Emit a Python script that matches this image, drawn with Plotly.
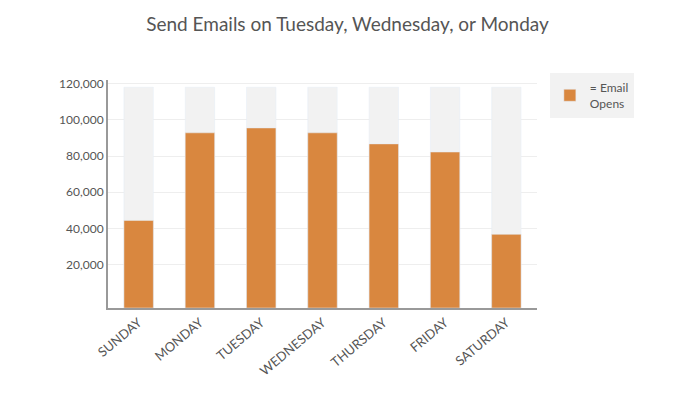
import plotly.graph_objects as go

days = ["SUNDAY", "MONDAY", "TUESDAY", "WEDNESDAY", "THURSDAY", "FRIDAY", "SATURDAY"]
opens = [44400, 92800, 95500, 92800, 86700, 82200, 36700]
background = [122000] * 7
tick_vals = [20000, 40000, 60000, 80000, 100000, 120000]
tick_text = ["20,000", "40,000", "60,000", "80,000", "100,000", "120,000"]

fig = go.Figure()
fig.add_bar(x=days, y=background, base=-4000, marker_color="#f2f2f2", showlegend=False,
            hoverinfo="skip", width=0.48)
fig.add_bar(x=days, y=[v + 4000 for v in opens], base=-4000, marker_color="#D9873F",
            name="= Email<br>Opens", width=0.48)
fig.update_layout(
    width=679, height=404, barmode="overlay", bargap=0.5,
    plot_bgcolor="white", paper_bgcolor="white",
    margin=dict(l=100, r=150, t=72, b=104),
    font=dict(family="Lato, Open Sans, sans-serif", color="#555"),
    title=dict(text="Send Emails on Tuesday, Wednesday, or Monday", x=0.5, xanchor="center",
               y=0.975, yanchor="top", font=dict(size=19, color="#555")),
    legend=dict(x=1.03, y=1.03, xanchor="left", yanchor="top", bgcolor="#f2f2f2",
                font=dict(size=12, color="#555")),
    xaxis=dict(tickangle=-40, tickfont=dict(size=13, color="#555"), showline=True,
               linecolor="#999", linewidth=2, ticks="", showgrid=False),
    yaxis=dict(range=[-4000, 122000], tickvals=tick_vals, ticktext=tick_text,
               tickfont=dict(size=12, color="#555"), showline=True, linecolor="#999",
               linewidth=2, gridcolor="#eeeeee", zeroline=False),
)
fig.write_html("out.html")
